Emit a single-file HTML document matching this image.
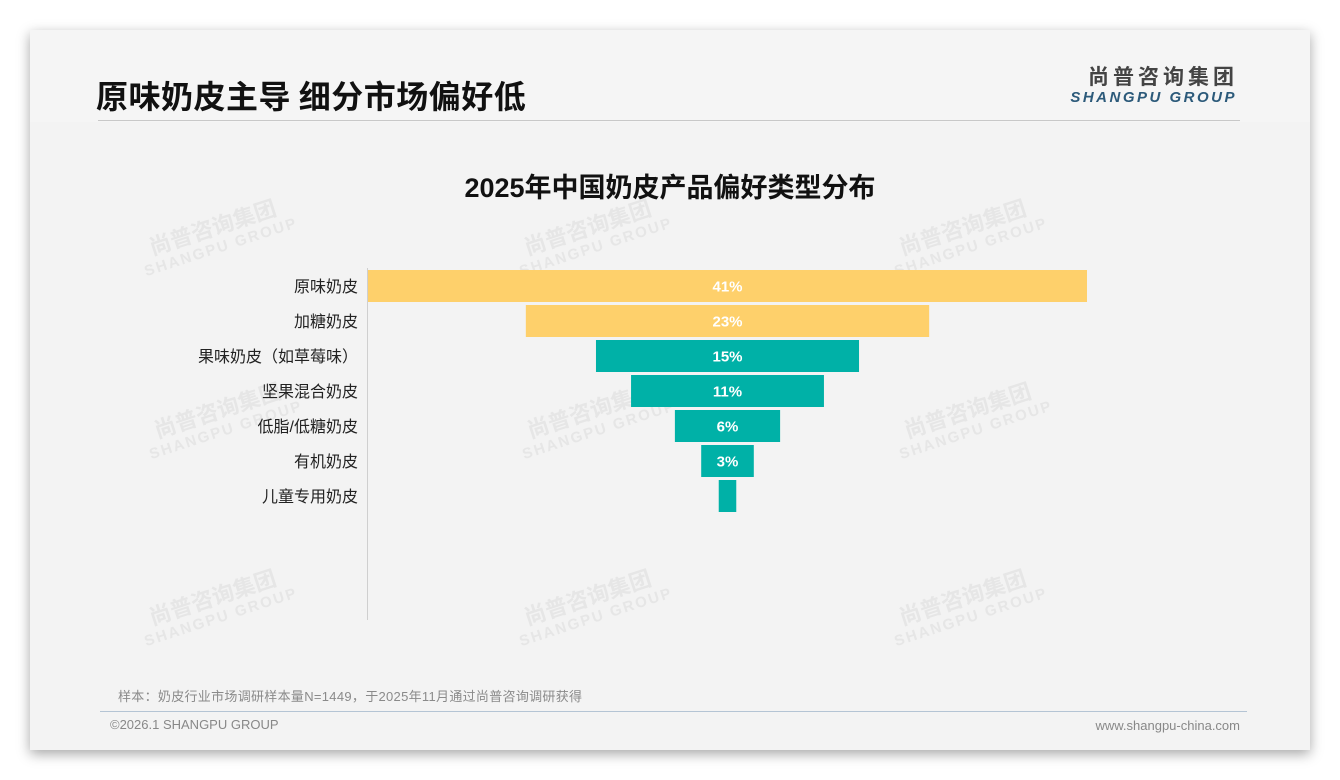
<!DOCTYPE html>
<html><head><meta charset="utf-8">
<style>
body{margin:0;width:1340px;height:780px;background:#fff;overflow:hidden;font-family:"Liberation Sans","Noto Sans CJK SC",sans-serif;}
#card{position:absolute;left:30px;top:30px;width:1280px;height:720px;background:#f3f3f3;box-shadow:0 4px 12px rgba(0,0,0,0.35);}
</style></head><body>
<div id="card">
<svg width="1280" height="720" viewBox="30 30 1280 720" style="position:absolute;left:0;top:0">
<rect x="30" y="30" width="1280" height="92" fill="#f5f5f5"/>
<text x="96" y="108" font-size="32" font-weight="bold" fill="#111" letter-spacing="0.5" font-family="'Noto Sans CJK SC',sans-serif">原味奶皮主导 细分市场偏好低</text>
<line x1="98" y1="120.5" x2="1240" y2="120.5" stroke="#c8c8c8" stroke-width="1"/>
<text x="1238" y="84" text-anchor="end" font-size="21" font-weight="bold" fill="#444" letter-spacing="4" font-family="'Noto Sans CJK SC',sans-serif">尚普咨询集团</text>
<text x="1237" y="102" text-anchor="end" font-size="15" font-weight="bold" font-style="italic" fill="#2c5a7a" letter-spacing="2.5" font-family="'Liberation Sans',sans-serif">SHANGPU GROUP</text>
<g id="wm"></g>
<text x="670" y="197" text-anchor="middle" font-size="27" font-weight="bold" fill="#111" font-family="'Liberation Sans','Noto Sans CJK SC',sans-serif">2025年中国奶皮产品偏好类型分布</text>
<line x1="367.5" y1="268" x2="367.5" y2="620" stroke="#cfcfcf"/>
<g id="chart"></g>
<text x="118" y="701" font-size="13" fill="#8a8a8a" letter-spacing="0.3" font-family="'Liberation Sans','Noto Sans CJK SC',sans-serif">样本：奶皮行业市场调研样本量N=1449，于2025年11月通过尚普咨询调研获得</text>
<line x1="100" y1="711.5" x2="1247" y2="711.5" stroke="#b4c4d4"/>
<text x="110" y="729" font-size="13" fill="#888">©2026.1 SHANGPU GROUP</text>
<text x="1240" y="730" text-anchor="end" font-size="13" fill="#888">www.shangpu-china.com</text>
</svg>
</div>
<script>
const categories=["原味奶皮","加糖奶皮","果味奶皮（如草莓味）","坚果混合奶皮","低脂/低糖奶皮","有机奶皮","儿童专用奶皮"];
const values=[41,23,15,11,6,3,1];
const colors=["#fed06b","#fed06b","#00b1a7","#00b1a7","#00b1a7","#00b1a7","#00b1a7"];
const NS="http://www.w3.org/2000/svg";
const cx=727.5, pxPer=719/41, top0=270, pitch=35, bh=32;
const xw=v=>v*pxPer, yr=i=>top0+i*pitch;
const g=document.getElementById('chart');
categories.forEach((c,i)=>{
  const w=xw(values[i]);
  const r=document.createElementNS(NS,'rect');
  r.setAttribute('x',cx-w/2);r.setAttribute('y',yr(i));r.setAttribute('width',w);r.setAttribute('height',bh);r.setAttribute('fill',colors[i]);
  
  
  g.appendChild(r);
  const t=document.createElementNS(NS,'text');
  t.setAttribute('x',358);t.setAttribute('y',yr(i)+bh/2+6);t.setAttribute('text-anchor','end');t.setAttribute('font-size','16');t.setAttribute('fill','#222');
  t.setAttribute('font-family',"'Liberation Sans','Noto Sans CJK SC',sans-serif");
  t.textContent=c;
  
  
  g.appendChild(t);
  if(values[i]>=3){
    const v=document.createElementNS(NS,'text');
    v.setAttribute('x',cx);v.setAttribute('y',yr(i)+bh/2+5.5);v.setAttribute('text-anchor','middle');v.setAttribute('font-size','15');v.setAttribute('font-weight','bold');v.setAttribute('fill','#fff');
    v.textContent=values[i]+'%';
    
    
    g.appendChild(v);
  }
});
const wm=document.getElementById('wm');
[[215,235],[590,235],[965,235],[220,418],[593,418],[970,418],[215,605],[590,605],[965,605]].forEach(p=>{
  const gg=document.createElementNS(NS,'g');
  gg.setAttribute('transform','translate('+p[0]+','+p[1]+') rotate(-18)');
  gg.innerHTML='<text x="0" y="0" text-anchor="middle" font-size="22" font-weight="bold" fill="#e6e6e6" font-family="\'Noto Sans CJK SC\',sans-serif">尚普咨询集团</text><text x="2" y="18" text-anchor="middle" font-size="15" font-weight="bold" fill="#e6e6e6" letter-spacing="2">SHANGPU GROUP</text>';
  
  
  wm.appendChild(gg);
});
</script>
</body></html>
